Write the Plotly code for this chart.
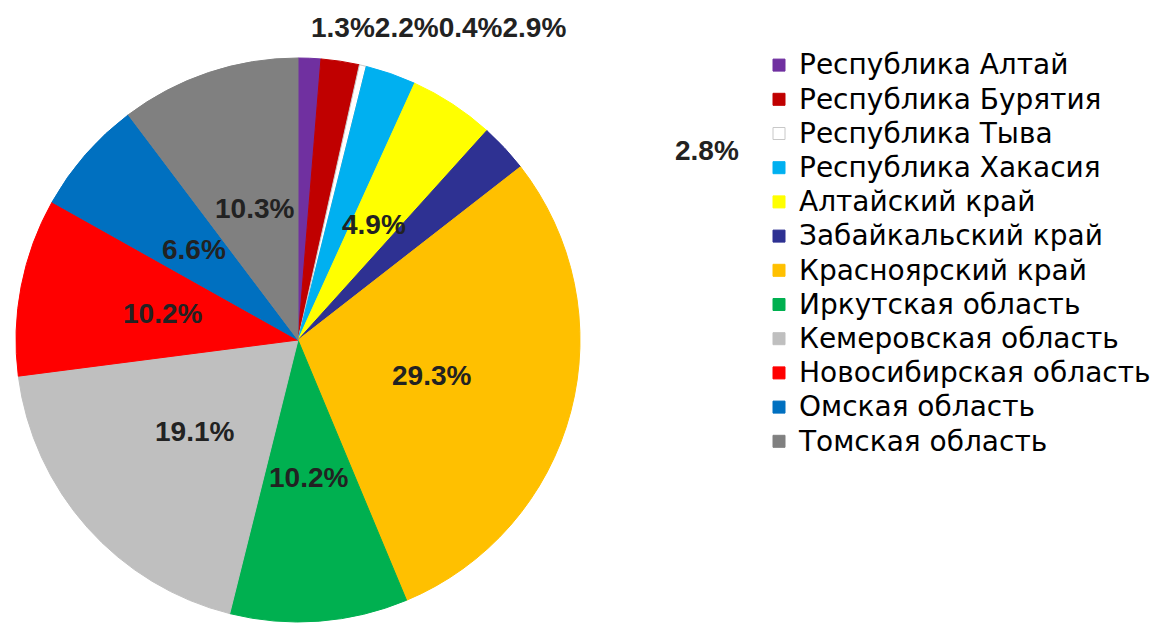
import numpy as np
import plotly.graph_objects as go

# ---- data ----
regions = ["Республика Алтай", "Республика Бурятия", "Республика Тыва", "Республика Хакасия",
           "Алтайский край", "Забайкальский край", "Красноярский край", "Иркутская область",
           "Кемеровская область", "Новосибирская область", "Омская область", "Томская область"]
shares = [1.3, 2.2, 0.4, 2.9, 4.9, 2.8, 29.3, 10.2, 19.1, 10.2, 6.6, 10.3]
colors = ["#7030A0", "#C00000", "#FFFFFF", "#00B0F0", "#FFFF00", "#2E3192",
          "#FFC000", "#00B050", "#BFBFBF", "#FF0000", "#0070C0", "#808080"]
edge_colors = ["#7030A0", "#C00000", "#C8C8C8", "#00B0F0", "#FFFF00", "#2E3192",
               "#FFC000", "#00B050", "#BFBFBF", "#FF0000", "#0070C0", "#808080"]

# ---- geometry / style (page pixels; the page body has an 8px margin) ----
OFF = 8
W, H = 1158 - OFF, 623 - OFF
cx, cy, R = 298 - OFF, 340 - OFF, 282
dom_x = [(cx - R) / W, (cx + R) / W]
dom_y = [1 - (cy + R) / H, 1 - (cy - R) / H]
label_font = dict(family="Liberation Sans", size=28, color="#222222", weight="bold")
label_radius = 0.49

vals = np.array(shares)
total = vals.sum()
mid = np.radians((np.cumsum(vals) - vals / 2) / total * 360)
inside = vals >= 3

legend_labels = ['<span style="font-size:28px">%s</span>' % r for r in regions]

fig = go.Figure()
fig.add_trace(go.Pie(
    labels=legend_labels, values=shares, sort=False, direction="clockwise", rotation=0,
    marker=dict(colors=colors, line=dict(color=edge_colors, width=1)),
    textinfo="none", domain=dict(x=dom_x, y=dom_y), hoverinfo="percent",
))

annotations = []
for i in range(len(vals)):
    if inside[i]:
        px = cx + label_radius * R * np.sin(mid[i])
        py = cy - label_radius * R * np.cos(mid[i])
        annotations.append(dict(text="%.1f%%" % vals[i], x=px / W, y=1 - py / H,
                                xref="paper", yref="paper", xanchor="center", yanchor="middle",
                                showarrow=False, font=label_font))

small = [i for i in range(len(vals)) if not inside[i]]
top_group = "".join("%.1f%%" % vals[i] for i in small if i < 4)
side_group = "".join("%.1f%%" % vals[i] for i in small if i >= 4)
annotations.append(dict(text=top_group, x=(438 - OFF) / W, y=1 - (28 - OFF) / H,
                        xref="paper", yref="paper", xanchor="center", yanchor="middle",
                        showarrow=False, font=label_font))
annotations.append(dict(text=side_group, x=(707 - OFF) / W, y=1 - (150 - OFF) / H,
                        xref="paper", yref="paper", xanchor="center", yanchor="middle",
                        showarrow=False, font=label_font))

fig.update_layout(
    width=W, height=H, margin=dict(l=0, r=0, t=0, b=0),
    paper_bgcolor="white", plot_bgcolor="white",
    showlegend=True,
    legend=dict(x=(759 - OFF) / W, y=1 - (43 - OFF) / H, xanchor="left", yanchor="top",
                font=dict(family="DejaVu Sans", size=24, color="#000000"),
                bgcolor="rgba(0,0,0,0)", itemwidth=30),
    annotations=annotations,
)

fig.write_html("out.html")
